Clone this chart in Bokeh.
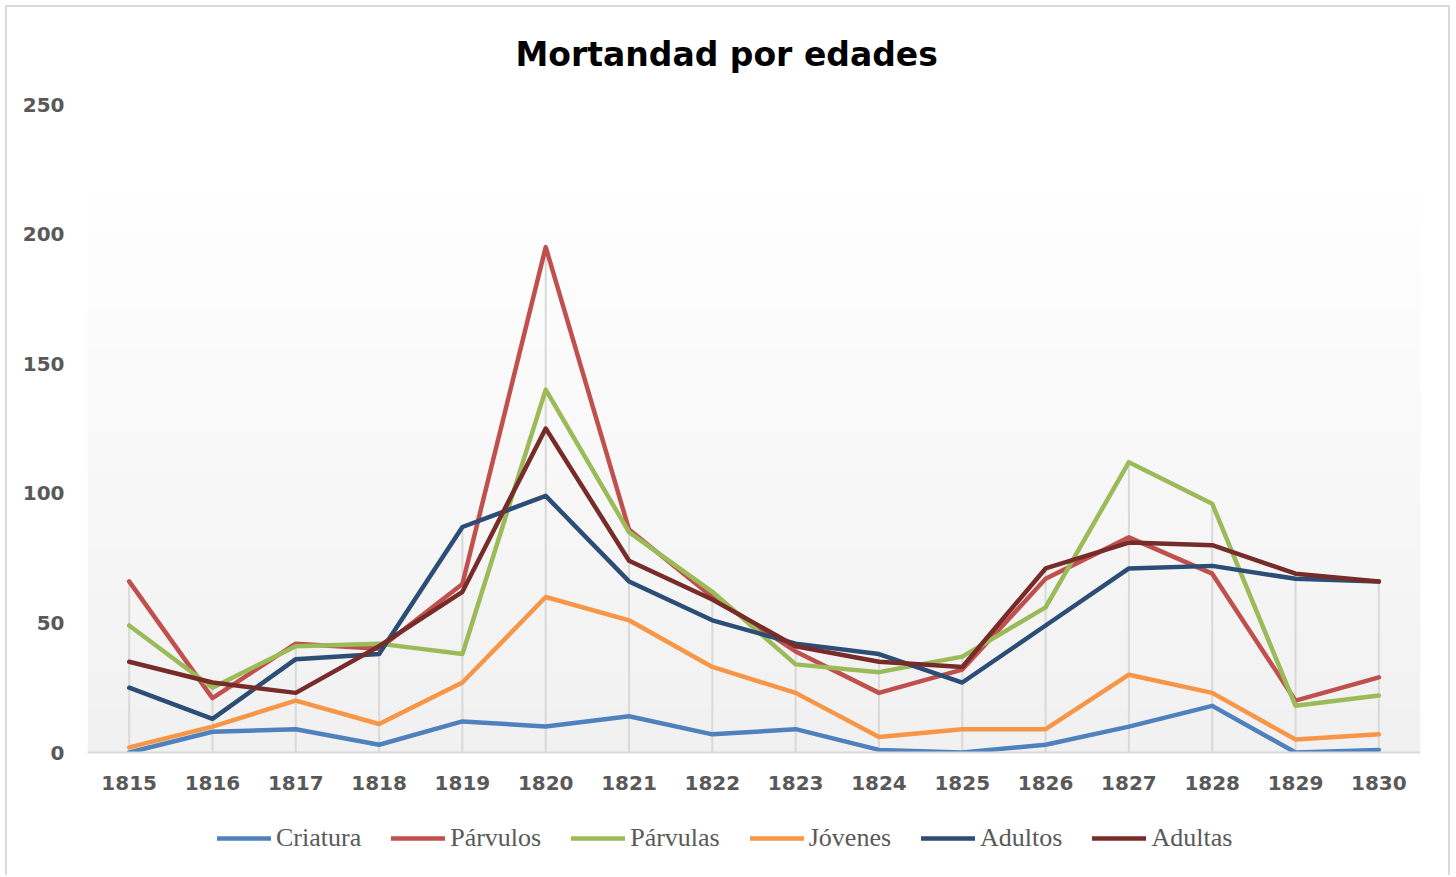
import numpy as np
from bokeh.plotting import figure
from bokeh.layouts import column
from bokeh.models import Range1d, FixedTicker, Legend, LegendItem
from bokeh.embed import file_html
from bokeh.resources import INLINE

# ---- data ----
years = [1815, 1816, 1817, 1818, 1819, 1820, 1821, 1822,
         1823, 1824, 1825, 1826, 1827, 1828, 1829, 1830]
criatura = [0, 8, 9, 3, 12, 10, 14, 7, 9, 1, 0, 3, 10, 18, 0, 1]
parvulos = [66, 21, 42, 40, 65, 195, 86, 60, 39, 23, 32, 67, 83, 69, 20, 29]
parvulas = [49, 25, 41, 42, 38, 140, 85, 62, 34, 31, 37, 56, 112, 96, 18, 22]
jovenes = [2, 10, 20, 11, 27, 60, 51, 33, 23, 6, 9, 9, 30, 23, 5, 7]
adultos = [25, 13, 36, 38, 87, 99, 66, 51, 42, 38, 27, 49, 71, 72, 67, 66]
adultas = [35, 27, 23, 41, 62, 125, 74, 59, 41, 35, 33, 71, 81, 80, 69, 66]
y_ticks = [0, 50, 100, 150, 200, 250]

series = [
    ("Criatura", criatura, "#4F81BD"),
    ("Párvulos", parvulos, "#C0504D"),
    ("Párvulas", parvulas, "#9BBB59"),
    ("Jóvenes", jovenes, "#F79646"),
    ("Adultos", adultos, "#2C4D75"),
    ("Adultas", adultas, "#772C2A"),
]

x0, x1 = years[0] - 0.5, years[-1] + 0.5
y0, y1 = 0, 250
total_w = 1455

p = figure(frame_width=1333, frame_height=648,
           x_range=Range1d(x0, x1), y_range=Range1d(y0, y1),
           min_border_left=87, min_border_right=total_w - 87 - 1333,
           min_border_top=104, min_border_bottom=53,
           output_backend="svg", toolbar_location=None,
           title="Mortandad por edades")
p.border_fill_color = None

p.title.text_font = "DejaVu Sans"
p.title.text_font_style = "bold"
p.title.text_font_size = "33px"
p.title.text_color = "#000000"
p.title.align = "left"
p.title.offset = 428
p.title.standoff = 62

p.outline_line_color = None
p.background_fill_color = "#ffffff"
p.xgrid.grid_line_color = None
p.ygrid.grid_line_color = None

# gradient plot-area fill
grad_top = 216.8
n = 256
img = np.empty((n, 1), dtype=np.uint32)
view = img.view(dtype=np.uint8).reshape((n, 1, 4))
g = np.linspace(241, 255, n).astype(np.uint8)
view[:, 0, 0] = g
view[:, 0, 1] = g
view[:, 0, 2] = g
view[:, 0, 3] = 255
p.image_rgba(image=[img], x=x0, y=y0, dw=x1 - x0, dh=grad_top - y0)

# drop lines
tops = np.max(np.array([s[1] for s in series]), axis=0)
p.segment(x0=years, y0=[0] * len(years), x1=years, y1=tops.tolist(),
          line_color="#d9d9d9", line_width=2)

for name, vals, col in series:
    p.line(years, vals, line_color=col, line_width=4.5,
           line_join="round", line_cap="round")

# axes
p.xaxis.ticker = FixedTicker(ticks=years)
p.xaxis.axis_line_color = "#d9d9d9"
p.xaxis.axis_line_width = 2
p.xaxis.major_tick_line_color = None
p.xaxis.minor_tick_line_color = None
p.xaxis.major_label_standoff = 17
p.yaxis.ticker = FixedTicker(ticks=y_ticks)
p.yaxis.axis_line_color = None
p.yaxis.major_tick_line_color = None
p.yaxis.minor_tick_line_color = None
p.yaxis.major_label_standoff = 17
for ax in (p.xaxis, p.yaxis):
    ax.major_label_text_font = "DejaVu Sans"
    ax.major_label_text_font_style = "bold"
    ax.major_label_text_font_size = "20px"
    ax.major_label_text_color = "#595959"

# legend strip (separate figure; its copies of the series lie outside its view)
lg = figure(width=total_w, height=70, x_range=Range1d(x0, x1),
            y_range=Range1d(y1 + 1, y1 + 2),
            min_border=0, x_axis_type=None, y_axis_type=None,
            output_backend="svg", toolbar_location=None)
lg.outline_line_color = None
lg.background_fill_color = None
lg.border_fill_color = None
lg.xgrid.grid_line_color = None
lg.ygrid.grid_line_color = None
items = []
for name, vals, col in series:
    r = lg.line(years, vals, line_color=col, line_width=4.5, line_cap="round")
    items.append(LegendItem(label=name, renderers=[r]))
legend = Legend(items=items, orientation="horizontal", location=(130, 22),
                label_text_font="Liberation Serif", label_text_font_size="26px",
                label_text_color="#595959", glyph_width=54, glyph_height=20,
                label_standoff=5, spacing=30, padding=0, margin=0,
                border_line_alpha=0, background_fill_alpha=0)
lg.add_layout(legend, "center")

bc = "#d9d9d9"
layout = column(p, lg, spacing=0)
layout.styles = {
    "background": (
        f"linear-gradient({bc},{bc}) left 5px top 5px / 2px calc(100% - 5px) no-repeat, "
        f"linear-gradient({bc},{bc}) left 5px top 5px / calc(100% - 10px) 2px no-repeat, "
        f"linear-gradient({bc},{bc}) right 5px top 5px / 2px calc(100% - 5px) no-repeat, "
        "#ffffff"
    )
}

open("out.html", "w").write(file_html(layout, INLINE))
